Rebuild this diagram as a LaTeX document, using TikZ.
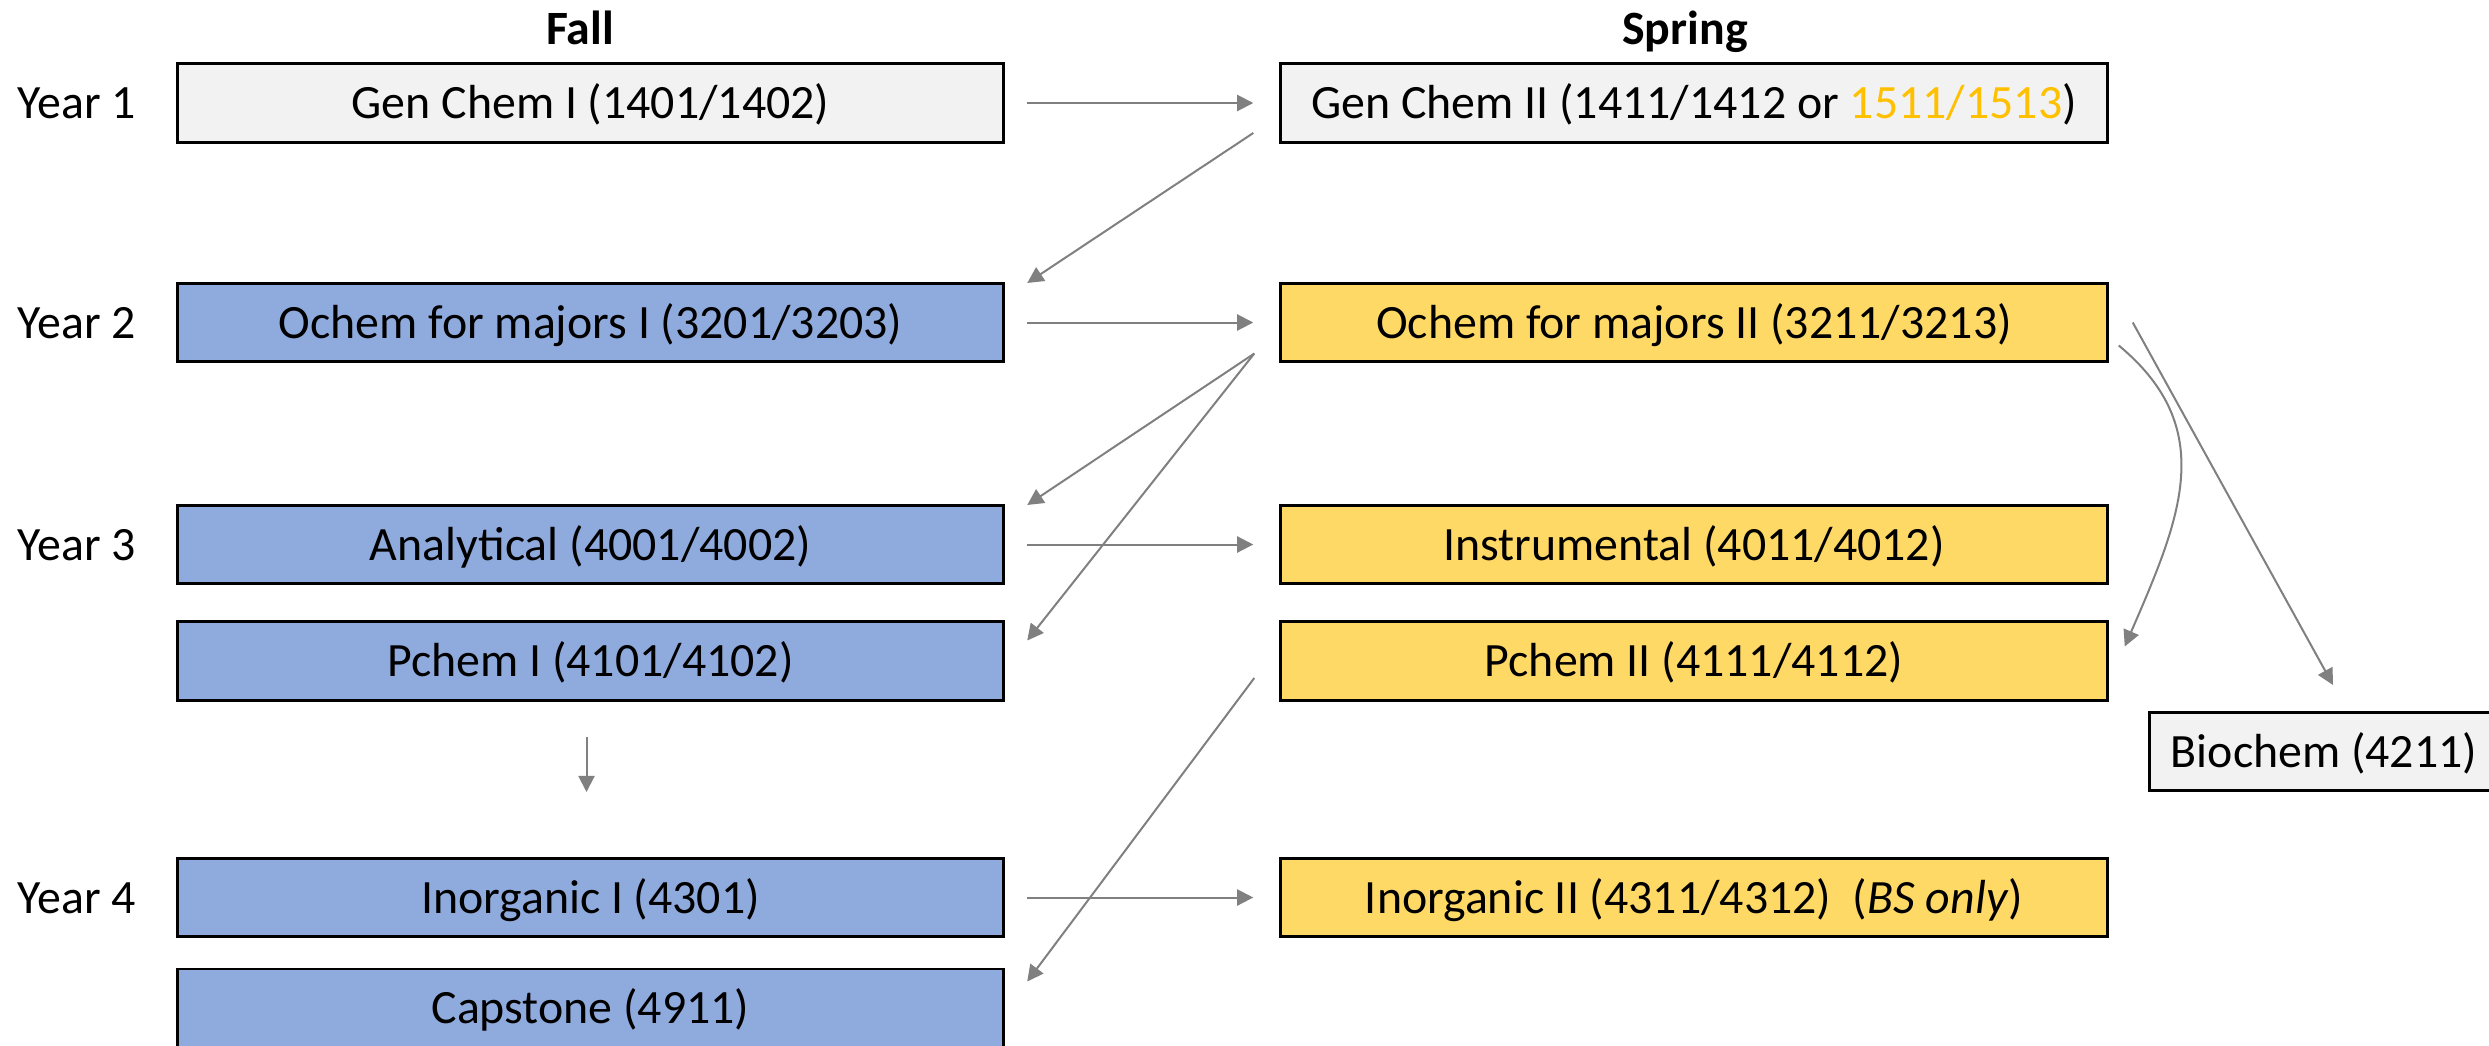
\documentclass[tikz,border=0pt]{standalone}
\usepackage{fontspec}
\setmainfont{Carlito}
\usepackage{tikz}
\usetikzlibrary{arrows.meta,calc}
\definecolor{fallblue}{HTML}{8FAADC}
\definecolor{springgold}{HTML}{FFD966}
\definecolor{boxgrey}{HTML}{F2F2F2}
\definecolor{altorange}{HTML}{FFC000}
\definecolor{arrowgrey}{HTML}{808080}
\newcommand{\crs}{\fontsize{13.6pt}{16pt}\selectfont}

\begin{document}
\begin{tikzpicture}[x=0.01cm,y=-0.01cm,
    course/.style={draw=black,line width=0.85pt,rectangle,minimum width=8.26cm,
      minimum height=0.78cm,inner sep=0pt,text height=0.31cm,text depth=0pt,font=\crs},
    fall/.style={course,fill=fallblue},
    spring/.style={course,fill=springgold},
    other/.style={course,fill=boxgrey},
    conn/.style={draw=arrowgrey,line width=0.57pt,-{Triangle[length=4.6pt,width=4.6pt]}},
    side/.style={conn,shorten <=0.22cm,shorten >=0.26cm}]
     \useasboundingbox (0,0) rectangle (2489,1045);
     % column heads and years
     \node[font=\crs\bfseries,anchor=base] (fall)   at ( 580,  44) {Fall};
     \node[font=\crs\bfseries,anchor=base] (spring) at (1685,  44) {Spring};
     \node[font=\crs] (y1) at (77, 103) {Year 1};
     \node[font=\crs] (y2) at (77, 323) {Year 2};
     \node[font=\crs] (y3) at (77, 545) {Year 3};
     \node[font=\crs] (y4) at (77, 898) {Year 4};
     % courses
     \node[other]  (gc1) at ( 590.5, 103)   {Gen Chem I (1401/1402)};
     \node[other]  (gc2) at (1694,   103)   {Gen Chem II (1411/1412 or \textcolor{altorange}{1511/1513})};
     \node[fall]   (oc1) at ( 590.5, 322.5) {Ochem for majors I (3201/3203)};
     \node[spring] (oc2) at (1694,   322.5) {Ochem for majors II (3211/3213)};
     \node[fall]   (an1) at ( 590.5, 544.5) {Analytical (4001/4002)};
     \node[spring] (ins) at (1694,   544.5) {Instrumental (4011/4012)};
     \node[fall]   (pc1) at ( 590.5, 661)   {Pchem I (4101/4102)};
     \node[spring] (pc2) at (1694,   661)   {Pchem II (4111/4112)};
     \node[fall]   (in1) at ( 590.5, 897.5) {Inorganic I (4301)};
     \node[spring] (in2) at (1694,   897.5) {Inorganic II (4311/4312)\ \ (\textit{BS only})};
     \node[fall]   (cap) at ( 590.5,1008)   {Capstone (4911)};
     \node[other,minimum width=3.48cm] (bio) at (2324, 751.5) {Biochem (4211)};
     % prerequisites
     \draw[side] (gc1) -- (gc2);
     \draw[side] (oc1) -- (oc2);
     \draw[side] (an1) -- (ins);
     \draw[side] (in1) -- (in2);
     \draw[conn] ($(gc2.west)+(-26,30)$) -- ($(oc1.north east)+(22,1)$);
     \draw[conn] ($(oc2.west)+(-25,31)$) -- ($(an1.north east)+(22,1)$);
     \draw[conn] ($(oc2.west)+(-25,31)$) -- ($(pc1.north east)+(22,20)$);
     \draw[conn] ($(pc2.west)+(-25,17)$) -- ($(cap.north east)+(22,14)$);
     \draw[conn] ($(oc2.east)+(24,0)$) -- ($(bio.north)+(9,-26)$);
     \draw[conn] ($(oc2.east)+(10,23)$) .. controls +(100,83) and +(56,-129) .. ($(pc2.north east)+(16,26)$);
     \draw[conn] ($(pc1.south)+(-4,35)$) -- ($(in1.north)+(-4,-65)$);
\end{tikzpicture}
\end{document}
